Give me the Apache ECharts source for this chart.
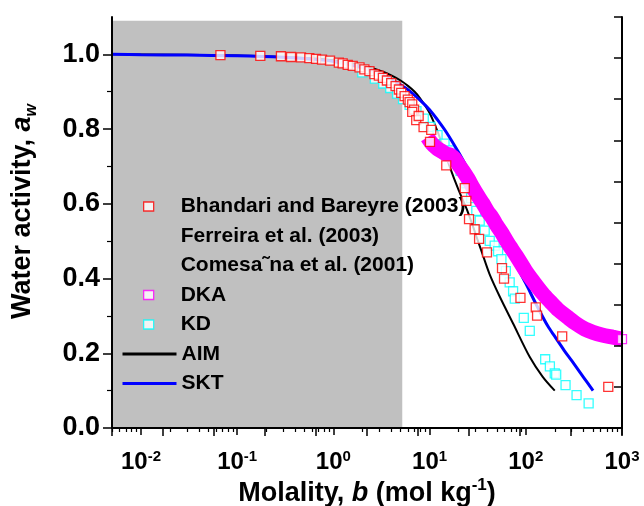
<!DOCTYPE html>
<html>
<head>
<meta charset="utf-8">
<script src="https://cdn.jsdelivr.net/npm/echarts@6/dist/echarts.min.js"></script>
<style>
  html, body { margin: 0; padding: 0; background: #fff; }
  #chart { width: 644px; height: 506px; }
</style>
</head>
<body>
<div id="chart"></div>
<script>
// molality b (mol/kg) and water activity a_w
const bhandariB = [0.067, 0.174, 0.285, 0.363, 0.461, 0.562, 0.66, 0.762, 0.923, 1.14, 1.25, 1.41, 1.59, 1.87, 2.1, 2.37, 2.67, 2.97, 3.27, 3.6, 3.99, 4.43, 4.8, 5.07, 5.5, 5.94, 6.2, 6.6, 6.9, 6.6, 7.26, 7.7, 8.66, 10.1, 10.4, 14.9, 23.2, 24.1, 25.7, 29.4, 32.7, 39.5, 56.6, 59.4, 88, 127, 131, 239, 720];
const bhandariAw = [0.998, 0.996, 0.995, 0.993, 0.992, 0.990, 0.988, 0.986, 0.983, 0.978, 0.976, 0.972, 0.969, 0.965, 0.960, 0.955, 0.947, 0.943, 0.937, 0.930, 0.923, 0.915, 0.906, 0.897, 0.888, 0.879, 0.872, 0.866, 0.852, 0.846, 0.824, 0.835, 0.805, 0.766, 0.798, 0.703, 0.642, 0.608, 0.559, 0.532, 0.506, 0.470, 0.428, 0.400, 0.348, 0.323, 0.301, 0.245, 0.110];

const kdB = [2.0, 2.7, 3.3, 3.9, 4.6, 5.3, 6.2, 7.3, 8.7, 10.2, 12.1, 14.3, 16.2, 18.5, 21, 24.1, 27, 30.6, 33.2, 37.4, 42.2, 47.5, 51.5, 55.8, 62, 68, 73.8, 76.8, 95.3, 110, 159, 178, 200, 207, 259, 337, 450];
const kdAw = [0.952, 0.935, 0.922, 0.910, 0.895, 0.880, 0.865, 0.848, 0.828, 0.806, 0.784, 0.761, 0.743, 0.718, 0.688, 0.655, 0.615, 0.581, 0.555, 0.528, 0.501, 0.488, 0.473, 0.452, 0.420, 0.390, 0.366, 0.346, 0.295, 0.260, 0.184, 0.165, 0.146, 0.143, 0.115, 0.088, 0.066];

const dkaB = [9.5, 10.5, 12, 13.5, 15, 16.5, 18, 20, 22, 25, 28, 32, 36, 40, 45, 50, 57, 65, 80, 100, 120, 150, 180, 220, 270, 330, 410, 500, 620, 800, 1000];
const dkaAw = [0.778, 0.762, 0.748, 0.740, 0.733, 0.730, 0.722, 0.705, 0.690, 0.668, 0.645, 0.620, 0.600, 0.580, 0.562, 0.542, 0.520, 0.495, 0.460, 0.420, 0.392, 0.360, 0.338, 0.315, 0.297, 0.280, 0.265, 0.256, 0.249, 0.243, 0.238];

const aimB = [0.005, 0.1, 0.5, 1, 2, 3, 4, 5, 6, 7, 8, 10, 12, 14, 16, 20, 25, 30, 35, 42, 54, 74, 110, 150, 200];
const aimAw = [1.0, 0.997, 0.990, 0.984, 0.970, 0.957, 0.944, 0.930, 0.915, 0.900, 0.882, 0.843, 0.796, 0.748, 0.703, 0.637, 0.578, 0.520, 0.470, 0.412, 0.350, 0.279, 0.190, 0.137, 0.100];

const sktB = [0.005, 0.01, 0.03, 0.1, 0.3, 0.6, 1, 2, 3, 4, 5, 6, 8, 10, 12, 15, 20, 25, 30, 40, 50, 60, 80, 100, 130, 170, 200, 250, 300, 400, 500];
const sktAw = [1.0, 0.999, 0.998, 0.996, 0.992, 0.987, 0.981, 0.964, 0.948, 0.932, 0.918, 0.905, 0.877, 0.852, 0.826, 0.791, 0.738, 0.693, 0.655, 0.594, 0.544, 0.503, 0.435, 0.387, 0.328, 0.272, 0.245, 0.208, 0.180, 0.135, 0.100];

// grey band behind the low-molality region
const shadeB = [0.005, 5.2];
const shadeAw = [0, 1.09];

const bTicks = [0.01, 0.1, 1, 10, 100, 1000];
const bMinorTicks = [];
[0.001, 0.01, 0.1, 1, 10, 100].forEach(d => {
  [2, 3, 4, 5, 6, 7, 8, 9].forEach(m => {
    const v = +(d * m).toPrecision(3);
    if (v >= 0.005 && v < 1000) bMinorTicks.push(v);
  });
});
const awTicks = [0, 0.2, 0.4, 0.6, 0.8, 1.0];
const awMinorTicks = [0.1, 0.3, 0.5, 0.7, 0.9];

const pairs = (xs, ys) => xs.map((x, i) => [x, ys[i]]);

const FONT = 'Liberation Sans';
const chart = echarts.init(document.getElementById('chart'));

const squareStyle = c => ({ color: '#fff', borderColor: c, borderWidth: 1.3 });
const legendText = { fontFamily: FONT, fontWeight: 'bold', fontSize: 21, lineHeight: 21, color: '#000' };
const noDot = { color: 'rgba(0,0,0,0)', borderColor: 'rgba(0,0,0,0)', borderWidth: 0 };

chart.setOption({
  animation: false,
  grid: { left: 112, right: 22, top: 17, bottom: 78, outerBoundsMode: 'none', containLabel: false },
  legend: [
    {
      // square-marker entries
      orient: 'vertical',
      left: 138,
      top: 191,
      itemWidth: 10,
      itemHeight: 9,
      itemGap: 8.5,
      selectedMode: false,
      textStyle: Object.assign({ padding: [0, 0, 0, 22] }, legendText),
      data: [
        { name: 'Bhandari and Bareyre (2003)', icon: 'rect', itemStyle: squareStyle('#ff0000') },
        { name: 'Ferreira et al. (2003)', icon: 'none' },
        { name: 'Comesa˜na et al. (2001)', icon: 'none' },
        { name: 'DKA', icon: 'rect', itemStyle: squareStyle('#ff00ff') },
        { name: 'KD', icon: 'rect', itemStyle: squareStyle('#00ffff') }
      ]
    },
    {
      // line entries
      orient: 'vertical',
      left: 116,
      top: 338.5,
      itemWidth: 54,
      itemHeight: 9,
      itemGap: 8.5,
      selectedMode: false,
      textStyle: legendText,
      data: [
        { name: 'AIM', lineStyle: { width: 3, color: '#000' }, itemStyle: noDot },
        { name: 'SKT', lineStyle: { width: 3, color: '#0000ff' }, itemStyle: noDot }
      ]
    }
  ],
  xAxis: [
    {
      type: 'log',
      position: 'bottom',
      min: 0.005,
      max: 1000,
      z: 10,
      name: '{t|Molality, }{i|b}{t| (mol kg}{s|-1}{t|)}',
      nameLocation: 'middle',
      nameGap: 49,
      nameMoveOverlap: false,
      nameTextStyle: {
        rich: {
          t: { fontFamily: FONT, fontWeight: 'bold', fontSize: 27, lineHeight: 34, color: '#000' },
          i: { fontFamily: FONT, fontWeight: 'bold', fontStyle: 'italic', fontSize: 27, lineHeight: 34, color: '#000' },
          s: { fontFamily: FONT, fontWeight: 'bold', fontSize: 17, verticalAlign: 'top', color: '#000' }
        }
      },
      axisLine: { lineStyle: { color: '#000', width: 2 } },
      axisTick: { customValues: bTicks, length: 7, lineStyle: { color: '#000', width: 1.5 } },
      axisLabel: {
        customValues: bTicks,
        margin: 21,
        formatter: v => '{b|10}{s|' + Math.round(Math.log10(v)) + '}',
        rich: {
          b: { fontFamily: FONT, fontWeight: 'bold', fontSize: 24, lineHeight: 26, color: '#000' },
          s: { fontFamily: FONT, fontWeight: 'bold', fontSize: 15, verticalAlign: 'top', color: '#000' }
        }
      },
      splitLine: { show: false }
    },
    {
      type: 'log',
      position: 'bottom',
      min: 0.005,
      max: 1000,
      z: 10,
      axisLine: { show: false },
      axisTick: { customValues: bMinorTicks, length: 4, lineStyle: { color: '#000', width: 1.2 } },
      axisLabel: { show: false },
      splitLine: { show: false }
    },
    {
      type: 'value',
      position: 'top',
      min: 0,
      max: 10,
      interval: 1,
      z: 10,
      axisLine: { lineStyle: { color: '#000', width: 2 } },
      axisTick: { inside: true, length: 8, lineStyle: { color: '#000', width: 1.5 } },
      axisLabel: { show: false },
      splitLine: { show: false }
    }
  ],
  yAxis: [
    {
      type: 'value',
      position: 'left',
      min: 0,
      max: 1.1,
      z: 10,
      name: '{t|Water activity, }{i|a}{w|w}',
      nameLocation: 'middle',
      nameGap: 72,
      nameMoveOverlap: false,
      nameTextStyle: {
        padding: [0, 0, 0, 22],
        rich: {
          t: { fontFamily: FONT, fontWeight: 'bold', fontSize: 27, lineHeight: 34, color: '#000' },
          i: { fontFamily: FONT, fontWeight: 'bold', fontStyle: 'italic', fontSize: 27, lineHeight: 34, color: '#000' },
          w: { fontFamily: FONT, fontWeight: 'bold', fontStyle: 'italic', fontSize: 16, verticalAlign: 'bottom', color: '#000' }
        }
      },
      axisLine: { lineStyle: { color: '#000', width: 2 } },
      axisTick: { customValues: awTicks, length: 9, lineStyle: { color: '#000', width: 1.5 } },
      axisLabel: {
        customValues: awTicks,
        margin: 12,
        formatter: v => v.toFixed(1),
        fontFamily: FONT, fontWeight: 'bold', fontSize: 27, color: '#000'
      },
      splitLine: { show: false }
    },
    {
      type: 'value',
      position: 'left',
      min: 0,
      max: 1.1,
      z: 10,
      axisLine: { show: false },
      axisTick: { customValues: awMinorTicks, length: 5, lineStyle: { color: '#000', width: 1.2 } },
      axisLabel: { show: false },
      splitLine: { show: false }
    },
    {
      type: 'value',
      position: 'right',
      min: 0,
      max: 10,
      interval: 1,
      z: 10,
      axisLine: { lineStyle: { color: '#000', width: 2 } },
      axisTick: { inside: true, length: 8, lineStyle: { color: '#000', width: 1.5 } },
      axisLabel: { show: false },
      splitLine: { show: false }
    }
  ],
  series: [
    {
      name: 'AIM',
      type: 'line',
      z: 2,
      data: pairs(aimB, aimAw),
      symbol: 'none',
      smooth: 0.3,
      lineStyle: { color: '#000', width: 2 },
      itemStyle: { color: '#000' },
      markArea: {
        silent: true,
        z: 1,
        itemStyle: { color: '#c0c0c0' },
        data: [[{ coord: [shadeB[0], shadeAw[0]] }, { coord: [shadeB[1], shadeAw[1]] }]]
      }
    },
    {
      name: 'KD',
      type: 'scatter',
      z: 3,
      data: pairs(kdB, kdAw),
      symbol: 'rect',
      symbolSize: 9,
      itemStyle: squareStyle('#00ffff')
    },
    {
      name: 'SKT',
      type: 'line',
      z: 4,
      data: pairs(sktB, sktAw),
      symbol: 'none',
      smooth: 0.3,
      lineStyle: { color: '#0000ff', width: 3 },
      itemStyle: { color: '#0000ff' }
    },
    {
      name: 'DKA band',
      type: 'line',
      z: 5,
      data: pairs(dkaB, dkaAw),
      symbol: 'none',
      smooth: 0.3,
      lineStyle: { color: '#ff00ff', width: 15, cap: 'butt' }
    },
    {
      name: 'DKA',
      type: 'scatter',
      z: 6,
      data: pairs(dkaB.slice(-1), dkaAw.slice(-1)),
      symbol: 'rect',
      symbolSize: 9,
      itemStyle: squareStyle('#ff00ff')
    },
    {
      name: 'Bhandari and Bareyre (2003)',
      type: 'scatter',
      z: 7,
      data: pairs(bhandariB, bhandariAw),
      symbol: 'rect',
      symbolSize: 9,
      itemStyle: squareStyle('#ff0000')
    },
    { name: 'Ferreira et al. (2003)', type: 'scatter', data: [] },
    { name: 'Comesa˜na et al. (2001)', type: 'scatter', data: [] }
  ]
});
</script>
</body>
</html>
